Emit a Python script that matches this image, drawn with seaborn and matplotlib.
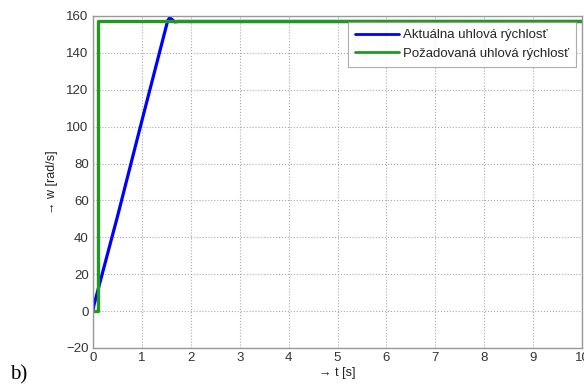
import matplotlib
matplotlib.use("Agg")
import matplotlib.pyplot as plt
import seaborn as sns
import pandas as pd

# Data
t_actual = [0.0, 0.02, 0.5, 1.0, 1.53, 1.57, 1.62, 1.67, 1.75, 1.9, 10.0]
w_actual = [0.0, 3.0, 51.0, 103.0, 157.5, 159.0, 158.0, 156.8, 157.0, 157.0, 157.0]
t_ref = [0.0, 0.1, 0.1, 10.0]
w_ref = [0.0, 0.0, 157.0, 157.0]

label_actual = "Aktuálna uhlová rýchlosť"
label_ref = "Požadovaná uhlová rýchlosť"
xticks = list(range(0, 11))
yticks = list(range(-20, 161, 20))

sns.set_theme(style="white")
plt.rcParams['font.family'] = ['Liberation Sans', 'DejaVu Sans']

fig = plt.figure(figsize=(5.84, 3.87), dpi=100)
ax = fig.add_axes([0.159, 0.1008, 0.838, 0.858])

df_a = pd.DataFrame({"t": t_actual, "w": w_actual})
df_r = pd.DataFrame({"t": t_ref, "w": w_ref})
sns.lineplot(data=df_a, x="t", y="w", ax=ax, color="#0000ff", lw=2.3,
             label=label_actual, sort=False, estimator=None)
sns.lineplot(data=df_r, x="t", y="w", ax=ax, color="#1f9a1f", lw=2.4,
             label=label_ref, sort=False, estimator=None)

ax.set_xlim(0, 10)
ax.set_ylim(-20, 160)
ax.set_xticks(xticks)
ax.set_yticks(yticks)
ax.tick_params(axis='both', direction='in', length=3, labelsize=9.5,
               colors='#333333', pad=3)
ax.grid(True, linestyle=':', color='#aaaaaa', linewidth=0.8)
for s in ax.spines.values():
    s.set_color('#999999')
    s.set_linewidth(1.0)

ax.set_xlabel("→ t [s]", fontsize=9, color='#222222', labelpad=2)
ax.set_ylabel("→ w [rad/s]", fontsize=9, color='#222222', labelpad=6)

leg = ax.legend(loc='upper right', fontsize=9.5, frameon=True, fancybox=False,
                handlelength=3.3, handletextpad=0.3, borderpad=0.55,
                labelspacing=0.45, borderaxespad=0.45)
leg.get_frame().set_edgecolor('#999999')
leg.get_frame().set_linewidth(0.8)
for line in leg.get_lines():
    line.set_linewidth(2.0)

fig.text(0.017, 0.02, "b)", fontsize=15, family=['Liberation Serif', 'DejaVu Serif'],
         color='black')

fig.savefig("out.png", dpi=100)
